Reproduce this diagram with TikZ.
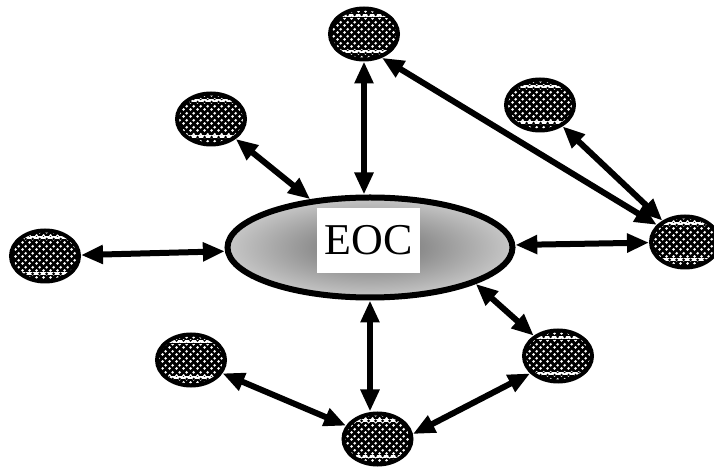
\documentclass[tikz,border=0pt]{standalone}
\usepackage{fontspec}
\setmainfont{Liberation Serif}
\usetikzlibrary{arrows.meta,shapes.geometric,patterns.meta}

\tikzdeclarepattern{
  name=meshdots,
  type=uncolored,
  bottom left={(0pt,0pt)},
  top right={(7pt,7pt)},
  tile size={(7pt,7pt)},
  code={
    \fill (1.75pt,1.75pt) circle (1.6pt);
    \fill (5.25pt,5.25pt) circle (1.6pt);
  }
}

\begin{document}
\begin{tikzpicture}[x=1pt,y=1pt,
	site/.style={ellipse,draw=black,line width=4pt,minimum width=68pt,minimum height=51pt,inner sep=0pt,
		preaction={fill=black},pattern=meshdots,pattern color=white,
		path picture={
			\fill[white] ([yshift=-9pt]path picture bounding box.north west) rectangle ([yshift=-6pt]path picture bounding box.north east);
			\fill[white] ([yshift=6pt]path picture bounding box.south west) rectangle ([yshift=9pt]path picture bounding box.south east);
			\fill[pattern=meshdots,pattern color=black] ([yshift=-9pt]path picture bounding box.north west) rectangle ([yshift=-6pt]path picture bounding box.north east);
			\fill[pattern=meshdots,pattern color=black] ([yshift=6pt]path picture bounding box.south west) rectangle ([yshift=9pt]path picture bounding box.south east);
		}},
	hub/.style={ellipse,draw=black,line width=6pt,minimum width=285pt,minimum height=100pt,inner color=black!58,outer color=black!22},
	tag/.style={fill=white,minimum width=103pt,minimum height=65pt,inner sep=0pt,font=\fontsize{44}{46}\selectfont},
	link/.style={line width=6pt,{Triangle[length=22pt,width=18pt]}-{Triangle[length=22pt,width=18pt]}}]
		\useasboundingbox (0,0) rectangle (714,468);
		% centre
		\node[hub] (eoc) at (370,220.5) {};
		\node[tag] (eocbox) at (368.5,227.5) {EOC};
		% sites round it
		\node[site] (tp) at (364,434) {};
		\node[site] (ul) at (211,349) {};
		\node[site] (ur) at (540,363) {};
		\node[site] (lft) at (45,212) {};
		\node[site] (rgt) at (685,226) {};
		\node[site] (ll) at (191,108) {};
		\node[site] (lr) at (558,112) {};
		\node[site] (bot) at (377.5,29) {};
		% links
		\draw[link] (tp.south) -- (tp.south |- eoc.north);
		\draw[link] (ul) -- (eoc);
		\draw[link] (lft) -- (eoc);
		\draw[link] (eoc) -- (rgt);
		\draw[link] (ur) -- (rgt);
		\draw[link] (tp.-53) -- (rgt);
		\draw[link] (eoc.-19) -- (lr.140);
		\draw[link] (eoc.south) -- (eoc.south |- bot.north);
		\draw[link] (ll) -- (bot);
		\draw[link] (bot.8) -- (lr.212);
	\end{tikzpicture}
\end{document}
